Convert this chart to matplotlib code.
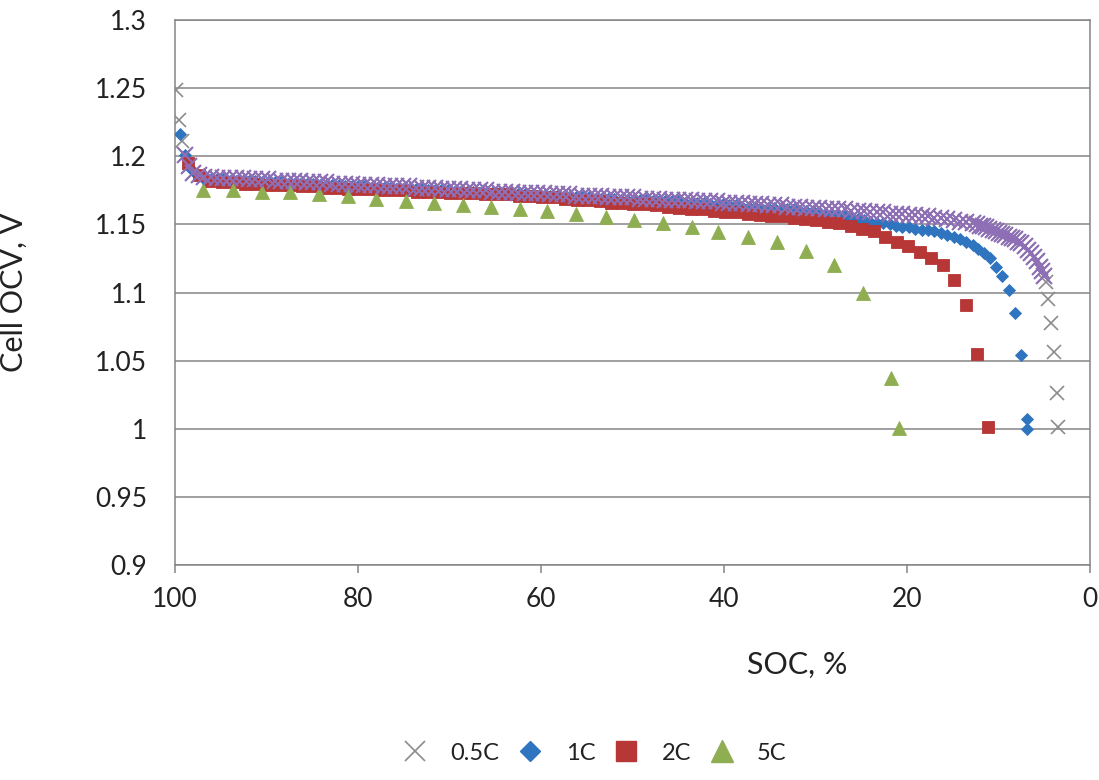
import numpy as np
import matplotlib
matplotlib.use('Agg')
import matplotlib.pyplot as plt
from matplotlib.ticker import MultipleLocator, FuncFormatter
from matplotlib.lines import Line2D

plt.rcParams['font.family'] = ['Lato', 'DejaVu Sans']

#%% Data: SOC [%] and cell OCV [V]
soc_05 = [99.9, 99.6, 99.2, 98.9, 98.5, 98.0, 97.4,
          96.8, 96.1, 95.4, 94.7, 94.0, 93.3, 92.6, 91.9, 91.2, 90.5,
          89.8, 89.1, 88.4, 87.7, 87.0, 86.3, 85.6, 84.9, 84.2, 83.5,
          82.8, 82.1, 81.4, 80.7, 80.0, 79.3, 78.6, 77.9, 77.2, 76.5,
          75.8, 75.1, 74.4, 73.7, 73.0, 72.3, 71.6, 70.9, 70.2, 69.5,
          68.8, 68.1, 67.4, 66.7, 66.0, 65.3, 64.6, 63.9, 63.2, 62.5,
          61.8, 61.1, 60.4, 59.7, 59.0, 58.3, 57.6, 56.9, 56.2, 55.5,
          54.8, 54.1, 53.4, 52.7, 52.0, 51.3, 50.6, 49.9, 49.2, 48.5,
          47.8, 47.1, 46.4, 45.7, 45.0, 44.3, 43.6, 42.9, 42.2, 41.5,
          40.8, 40.1, 39.4, 38.7, 38.0, 37.3, 36.6, 35.9, 35.2, 34.5,
          33.8, 33.1, 32.4, 31.7, 31.0, 30.3, 29.6, 28.9, 28.2, 27.5,
          26.8, 26.1, 25.4, 24.7, 24.0, 23.3, 22.6, 21.9, 21.2, 20.5,
          19.8, 19.1, 18.4, 17.7, 17.0, 16.3, 15.6, 14.9, 14.2, 13.5,
          12.8, 12.4, 12.05, 11.7, 11.35, 11.0, 10.65, 10.3, 9.95, 9.6,
          9.25, 8.9, 8.55, 8.2, 7.85, 7.5, 7.15, 6.8, 6.45, 6.1,
          5.8, 5.5, 5.25, 5.0, 4.8, 4.6, 4.3, 3.9, 3.6, 3.5]
v_05 = [1.249, 1.227, 1.211, 1.201, 1.193, 1.188, 1.186,
        1.185, 1.185, 1.184, 1.184, 1.184, 1.184, 1.184, 1.183, 1.183, 1.183,
        1.183, 1.182, 1.182, 1.182, 1.182, 1.182, 1.181, 1.181, 1.181, 1.181,
        1.180, 1.180, 1.180, 1.180, 1.179, 1.179, 1.179, 1.179, 1.178, 1.178,
        1.178, 1.178, 1.178, 1.177, 1.177, 1.177, 1.177, 1.176, 1.176, 1.176,
        1.176, 1.175, 1.175, 1.175, 1.175, 1.174, 1.174, 1.174, 1.174, 1.173,
        1.173, 1.173, 1.173, 1.173, 1.172, 1.172, 1.172, 1.172, 1.171, 1.171,
        1.171, 1.171, 1.171, 1.170, 1.170, 1.170, 1.170, 1.170, 1.169, 1.169,
        1.169, 1.169, 1.168, 1.168, 1.168, 1.168, 1.168, 1.167, 1.167, 1.167,
        1.167, 1.166, 1.166, 1.166, 1.166, 1.165, 1.165, 1.165, 1.164, 1.164,
        1.164, 1.163, 1.163, 1.163, 1.162, 1.162, 1.162, 1.161, 1.161, 1.161,
        1.161, 1.160, 1.160, 1.160, 1.159, 1.159, 1.159, 1.158, 1.158, 1.158,
        1.157, 1.157, 1.156, 1.156, 1.155, 1.155, 1.154, 1.153, 1.152, 1.152,
        1.151, 1.150, 1.149, 1.149, 1.148, 1.147, 1.146, 1.145, 1.144, 1.143,
        1.142, 1.141, 1.140, 1.139, 1.137, 1.136, 1.134, 1.131, 1.129, 1.126,
        1.123, 1.119, 1.116, 1.112, 1.108, 1.095, 1.078, 1.056, 1.026, 1.001]

soc_1c = [99.5, 98.9, 98.3, 97.6,
          96.8, 96.1, 95.4, 94.7, 94.0, 93.3, 92.6, 91.9, 91.2, 90.5,
          89.8, 89.1, 88.4, 87.7, 87.0, 86.3, 85.6, 84.9, 84.2, 83.5,
          82.8, 82.1, 81.4, 80.7, 80.0, 79.3, 78.6, 77.9, 77.2, 76.5,
          75.8, 75.1, 74.4, 73.7, 73.0, 72.3, 71.6, 70.9, 70.2, 69.5,
          68.8, 68.1, 67.4, 66.7, 66.0, 65.3, 64.6, 63.9, 63.2, 62.5,
          61.8, 61.1, 60.4, 59.7, 59.0, 58.3, 57.6, 56.9, 56.2, 55.5,
          54.8, 54.1, 53.4, 52.7, 52.0, 51.3, 50.6, 49.9, 49.2, 48.5,
          47.8, 47.1, 46.4, 45.7, 45.0, 44.3, 43.6, 42.9, 42.2, 41.5,
          40.8, 40.1, 39.4, 38.7, 38.0, 37.3, 36.6, 35.9, 35.2, 34.5,
          33.8, 33.1, 32.4, 31.7, 31.0, 30.3, 29.6, 28.9, 28.2, 27.5,
          26.8, 26.1, 25.4, 24.7, 24.0, 23.3, 22.6, 21.9, 21.2, 20.5,
          19.8, 19.1, 18.4, 17.7, 17.0, 16.3, 15.6, 14.9, 14.2, 13.5,
          12.8, 12.2, 11.6, 10.9, 10.3, 9.6, 8.9, 8.2, 7.5, 6.9, 6.85]
v_1c = [1.216, 1.201, 1.191, 1.186,
        1.183, 1.183, 1.183, 1.183, 1.182, 1.182, 1.182, 1.182, 1.182, 1.181,
        1.181, 1.181, 1.181, 1.180, 1.180, 1.180, 1.180, 1.180, 1.179, 1.179,
        1.179, 1.179, 1.178, 1.178, 1.178, 1.178, 1.177, 1.177, 1.177, 1.177,
        1.176, 1.176, 1.176, 1.176, 1.176, 1.175, 1.175, 1.175, 1.175, 1.174,
        1.174, 1.174, 1.174, 1.173, 1.173, 1.173, 1.173, 1.172, 1.172, 1.172,
        1.172, 1.171, 1.171, 1.171, 1.171, 1.171, 1.170, 1.170, 1.170, 1.170,
        1.170, 1.169, 1.169, 1.169, 1.169, 1.168, 1.168, 1.168, 1.168, 1.168,
        1.167, 1.167, 1.167, 1.167, 1.167, 1.166, 1.166, 1.166, 1.166, 1.165,
        1.165, 1.165, 1.164, 1.164, 1.163, 1.163, 1.163, 1.162, 1.162, 1.162,
        1.161, 1.161, 1.161, 1.160, 1.160, 1.160, 1.159, 1.158, 1.157, 1.156,
        1.156, 1.155, 1.154, 1.153, 1.152, 1.151, 1.151, 1.150, 1.149, 1.148,
        1.148, 1.147, 1.146, 1.146, 1.145, 1.144, 1.142, 1.141, 1.139, 1.137,
        1.135, 1.132, 1.129, 1.125, 1.119, 1.112, 1.102, 1.085, 1.054, 1.007, 1.000]

soc_2c = [98.6, 97.4, 96.1, 94.9, 93.6, 92.4, 91.1, 89.9, 88.6, 87.4,
          86.1, 84.9, 83.6, 82.4, 81.1, 79.9, 78.6, 77.4, 76.1, 74.9,
          73.6, 72.4, 71.1, 69.9, 68.6, 67.4, 66.1, 64.9, 63.6, 62.4,
          61.1, 59.9, 58.6, 57.4, 56.1, 54.9, 53.6, 52.4, 51.1, 49.9,
          48.6, 47.4, 46.1, 44.9, 43.6, 42.4, 41.1, 39.9, 38.6, 37.4,
          36.1, 34.9, 33.6, 32.4, 31.1, 29.9, 28.6, 27.4, 26.1, 24.9,
          23.6, 22.4, 21.1, 19.9, 18.6, 17.4, 16.1, 14.9, 13.6, 12.4, 11.1]
v_2c = [1.195, 1.186, 1.182, 1.181, 1.181, 1.180, 1.180, 1.179, 1.179, 1.179,
        1.178, 1.178, 1.177, 1.177, 1.176, 1.176, 1.176, 1.175, 1.175, 1.175,
        1.174, 1.174, 1.174, 1.173, 1.173, 1.173, 1.172, 1.172, 1.172, 1.171,
        1.171, 1.170, 1.170, 1.169, 1.168, 1.168, 1.167, 1.166, 1.166, 1.165,
        1.165, 1.164, 1.163, 1.162, 1.161, 1.161, 1.160, 1.159, 1.159, 1.158,
        1.157, 1.156, 1.156, 1.155, 1.154, 1.153, 1.152, 1.151, 1.149, 1.147,
        1.145, 1.141, 1.137, 1.134, 1.130, 1.125, 1.120, 1.109, 1.091, 1.055, 1.001]

soc_5c = [96.9, 93.7, 90.5, 87.4, 84.3, 81.1, 78.0, 74.8, 71.7, 68.5,
          65.5, 62.3, 59.3, 56.2, 52.9, 49.8, 46.7, 43.5, 40.7, 37.4,
          34.2, 31.0, 28.0, 24.8, 21.7, 20.9]
v_5c = [1.1755, 1.175, 1.174, 1.1735, 1.1725, 1.1705, 1.169, 1.1675, 1.166, 1.1645,
        1.163, 1.1615, 1.1595, 1.158, 1.1555, 1.1535, 1.151, 1.148, 1.1445, 1.141,
        1.137, 1.1305, 1.120, 1.0995, 1.037, 1.0005]

labels = ['0.5C', '1C', '2C', '5C']

#%% Style
cGray = '#8C8C8C'
cPurple = '#8E6FB6'
cBlue = '#2F74BE'
cRed = '#B73636'
cGreen = '#8FAE52'
cGrid = '#858585'

fig = plt.figure(figsize=(10.99, 7.80), dpi=100)
ax = fig.add_axes([0.1592, 0.2756, 0.8326, 0.6987])

soc05 = np.array(soc_05)
v05 = np.array(v_05)
ax.plot(soc05, v05, ls='none', marker='x', ms=10, mew=1.2, color=cGray, zorder=3)
ax.plot(soc_1c, v_1c, ls='none', marker='D', ms=6.5, mew=0.6, color=cBlue, zorder=4)
ax.plot(soc_2c, v_2c, ls='none', marker='s', ms=9, mew=0.6, color=cRed, zorder=5)
ax.plot(soc_5c, v_5c, ls='none', marker='^', ms=10, mew=0.6, color=cGreen, zorder=6)
# dense part of the 0.5C curve shows up purple in the original
dense = (soc05 <= 98.9) & (soc05 >= 4.9)
ax.plot(soc05[dense], v05[dense], ls='none', marker='x', ms=11, mew=1.5,
        color=cPurple, zorder=7)

ax.set_xlim(100, 0)
ax.set_ylim(0.9, 1.3)
ax.xaxis.set_major_locator(MultipleLocator(20))
ax.yaxis.set_major_locator(MultipleLocator(0.05))
ax.yaxis.set_major_formatter(FuncFormatter(lambda v, p: '%g' % round(v, 2)))
ax.grid(axis='y', color=cGrid, lw=1.1)
ax.set_axisbelow(True)
for sp in ax.spines.values():
    sp.set_color(cGrid)
    sp.set_linewidth(1.1)
ax.tick_params(axis='x', direction='out', length=6, width=1.1, color=cGrid,
               labelsize=19, pad=10, labelcolor='#222222')
ax.tick_params(axis='y', length=0, labelsize=19, pad=20, labelcolor='#222222')

ax.set_ylabel('Cell OCV, V', fontsize=22, color='#222222')
ax.yaxis.set_label_coords((28 - 175) / 915, 0.5)
fig.text(797 / 1099, 1 - 665 / 780, 'SOC, %', ha='center', va='center',
         fontsize=22, color='#222222')

handles = [Line2D([], [], ls='none', marker='x', ms=14, mew=1.2, color=cGray),
           Line2D([], [], ls='none', marker='D', ms=10, color=cBlue),
           Line2D([], [], ls='none', marker='s', ms=14, color=cRed),
           Line2D([], [], ls='none', marker='^', ms=16, color=cGreen)]
leg = fig.legend(handles, labels, loc='center', bbox_to_anchor=(595 / 1099, 1 - 753 / 780),
                 ncol=4, frameon=False, fontsize=17, handlelength=1.0,
                 handletextpad=1.0, columnspacing=0.8)
for t in leg.get_texts():
    t.set_color('#222222')

fig.savefig('out.png', dpi=100)
